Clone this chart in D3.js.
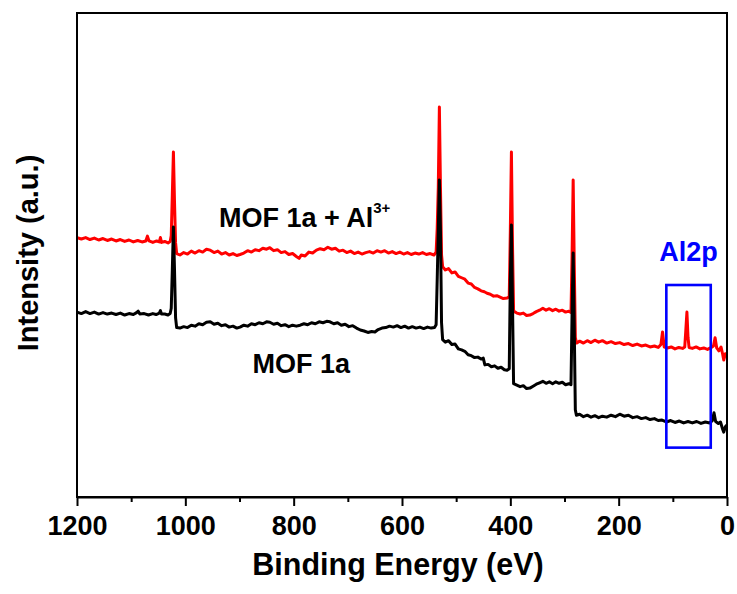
<!DOCTYPE html>
<html>
<head>
<meta charset="utf-8">
<script src="https://cdn.jsdelivr.net/npm/d3@7"></script>
<style>
  html, body { margin: 0; padding: 0; background: #fff; }
  svg { display: block; }
  text { font-family: "Liberation Sans", Arial, Helvetica, sans-serif; font-weight: bold; }
</style>
</head>
<body>
<svg id="chart" width="737" height="594"></svg>
<script>
// XPS survey spectra: [binding energy (eV), intensity (a.u.)]
const mof1aAl = [
  [1200,53.6],[1192,53.3],[1184,53.6],[1176,53.2],[1168,53.5],[1160,53.1],[1152,53.4],[1144,53.0],[1136,53.3],[1128,52.9],
  [1120,53.2],[1112,52.8],[1104,53.1],[1096,52.7],[1088,53.0],[1080,52.7],[1073,52.9],[1070,53.9],[1067,52.9],[1060,52.6],
  [1053,52.9],[1048,52.7],[1046,53.6],[1044,52.6],[1038,52.8],[1032,52.5],[1028,52.8],[1026,54.0],[1024,62.5],[1022,71.3],
  [1020,61.0],[1018,52.5],[1016,50.3],[1010,50.0],[1003,50.5],[996,50.2],[989,50.8],[982,50.4],[975,50.9],[968,50.6],
  [961,51.2],[954,51.0],[947,50.5],[940,50.8],[933,50.2],[926,50.5],[919,50.0],[912,50.3],[905,49.9],[899,50.1],
  [892,50.4],[885,50.9],[878,50.6],[871,51.1],[864,50.9],[857,51.4],[850,51.2],[844,51.5],[837,50.9],[830,51.1],
  [823,50.5],[816,50.7],[809,50.1],[802,50.3],[795,49.7],[790,49.3],[786,50.0],[779,49.8],[772,50.6],[765,50.4],
  [758,51.0],[751,51.3],[744,51.1],[737,51.6],[730,51.2],[723,51.4],[716,50.8],[709,51.0],[702,50.5],[695,50.8],
  [688,50.3],[681,50.6],[674,50.2],[667,50.5],[660,50.7],[653,50.4],[646,50.9],[639,50.6],[632,50.9],[625,50.4],
  [618,50.7],[611,50.3],[604,50.6],[597,50.2],[590,50.5],[583,50.1],[576,50.4],[569,50.2],[562,50.5],[555,50.1],
  [548,50.3],[541,50.0],[537,50.6],[535,55.5],[533,64.0],[531,80.6],[529,64.0],[527,50.0],[525,47.6],[520,46.9],
  [514,47.2],[508,46.3],[502,46.5],[496,45.6],[490,45.3],[484,45.0],[478,44.2],[472,44.0],[466,43.3],[460,43.0],
  [454,42.6],[448,42.4],[443,42.1],[437,41.9],[431,41.5],[425,41.6],[419,41.3],[413,41.0],[406,41.1],[402,41.4],
  [400,55.0],[398,71.3],[396,52.0],[394,38.4],[388,38.0],[382,37.8],[376,38.0],[370,37.5],[364,37.6],[358,37.9],
  [352,38.3],[346,38.6],[340,39.0],[334,38.6],[328,38.9],[322,38.5],[316,38.8],[310,38.4],[304,38.6],[298,38.2],
  [292,38.4],[288,38.1],[286,50.0],[284,65.5],[282,48.0],[280,33.0],[278,31.8],[272,32.2],[265,31.8],[258,32.3],
  [251,31.9],[244,32.4],[237,32.0],[230,32.3],[222,31.8],[214,32.1],[206,31.7],[198,31.9],[190,31.5],[182,31.7],
  [174,31.3],[166,31.6],[158,31.2],[150,31.4],[142,31.0],[134,31.2],[127,30.9],[122,31.5],[119,34.1],[116,31.0],
  [110,30.8],[103,31.0],[96,30.6],[89,30.9],[82,30.7],[78,31.0],[76,34.5],[74,38.2],[72,33.0],[70,30.9],
  [64,30.7],[57,31.0],[50,30.6],[43,30.8],[36,30.5],[29,30.9],[25,31.2],[22,32.9],[19,30.8],[15,30.2],
  [11,31.0],[8,29.5],[6,28.3],[3,29.6],[0,29.3]
];

const mof1a = [
  [1200,38.2],[1192,37.9],[1184,38.3],[1176,37.9],[1168,38.2],[1160,37.8],[1152,38.1],[1144,37.8],[1136,38.0],[1128,37.7],
  [1120,38.0],[1112,37.6],[1104,37.9],[1096,37.7],[1090,38.1],[1087,38.4],[1084,37.8],[1076,37.9],[1068,37.6],[1060,37.9],
  [1054,37.7],[1048,38.0],[1046,38.5],[1044,37.8],[1038,37.8],[1032,37.6],[1028,37.9],[1026,39.0],[1024,47.0],[1022,55.8],
  [1020,47.0],[1018,37.0],[1016,35.0],[1010,34.9],[1003,35.2],[996,35.0],[989,35.5],[982,35.3],[975,35.8],[968,35.6],
  [961,36.1],[954,36.2],[947,35.7],[940,35.9],[933,35.4],[926,35.6],[919,35.1],[912,35.3],[905,34.9],[899,35.1],
  [892,35.5],[885,35.3],[878,35.8],[871,35.6],[864,36.0],[857,35.8],[850,36.2],[844,36.1],[837,35.7],[830,35.9],
  [823,35.4],[816,35.6],[809,35.2],[802,35.5],[795,35.3],[788,35.5],[781,35.8],[774,35.6],[767,36.0],[760,35.8],
  [753,36.2],[746,36.0],[739,36.3],[733,36.2],[726,35.8],[719,36.0],[712,35.5],[705,35.7],[698,35.2],[691,35.4],
  [684,34.9],[677,34.5],[670,34.3],[663,34.0],[656,34.2],[650,34.1],[644,34.6],[637,34.9],[630,35.0],[623,35.3],
  [616,35.1],[609,35.4],[602,35.0],[595,35.3],[588,34.9],[581,35.2],[574,34.9],[567,35.1],[560,34.8],[553,35.1],
  [546,34.9],[540,35.0],[537,35.6],[535,45.0],[533,55.0],[531,65.5],[529,55.0],[527,36.0],[525,32.5],[520,32.0],
  [514,32.3],[508,31.5],[502,31.6],[496,30.6],[490,30.4],[484,30.1],[478,29.4],[472,29.2],[466,28.8],[460,28.9],
  [454,28.5],[450,28.7],[447,27.3],[441,27.4],[435,26.9],[429,27.1],[423,26.6],[417,26.8],[411,26.3],[406,26.2],
  [402,26.5],[400,45.0],[398,56.2],[396,40.0],[394,23.4],[388,23.1],[382,22.8],[376,23.0],[370,22.4],[364,22.5],
  [358,22.9],[352,23.3],[346,23.6],[340,23.9],[334,23.5],[328,23.8],[322,23.4],[316,23.8],[310,23.5],[304,23.7],
  [298,23.2],[292,23.4],[288,23.2],[286,38.0],[284,50.4],[282,35.0],[280,18.0],[278,16.9],[272,17.1],[265,16.6],
  [258,16.9],[251,16.5],[244,16.8],[237,16.4],[230,16.7],[222,16.5],[214,16.9],[206,16.6],[198,17.1],[190,16.7],
  [182,16.9],[174,16.4],[166,16.6],[158,16.2],[150,16.4],[142,16.0],[134,16.2],[127,15.8],[120,15.9],[112,15.5],
  [104,15.8],[96,15.4],[88,15.7],[80,15.3],[72,15.6],[64,15.3],[56,15.6],[48,15.2],[40,15.5],[32,15.3],
  [27,15.8],[24,17.4],[21,15.6],[16,15.2],[12,15.5],[8,14.0],[6,13.4],[3,14.5],[0,14.9]
];

// Axis ticks
const majorTicks = [1200, 1000, 800, 600, 400, 200, 0];
const minorTicks = [1100, 900, 700, 500, 300, 100];

// Highlighted Al 2p window: energy range and intensity range
const al2pWindow = { eMax: 112, eMin: 30, iMin: 10.2, iMax: 43.8 };

// Text
const seriesLabels = [
  { text: "MOF 1a + Al", sup: "3+", e: 938, i: 55.8, color: "#000" },
  { text: "MOF 1a", sup: "", e: 876, i: 25.6, color: "#000" }
];
const windowLabel = "Al2p";
const xTitle = "Binding Energy (eV)";
const yTitle = "Intensity (a.u.)";

const svg = d3.select("#chart");
const plot = { left: 77, right: 727, top: 13, bottom: 497 };

const x = d3.scaleLinear().domain([1200, 0]).range([plot.left, plot.right]);
const y = d3.scaleLinear().domain([0, 100]).range([plot.bottom, plot.top]);

// Spectra: the bare MOF trace is drawn over the Al-loaded one
const line = d3.line().x(d => x(d[0])).y(d => y(d[1]));
svg.append("path").datum(mof1aAl)
  .attr("fill", "none").attr("stroke", "#ff0000").attr("stroke-width", 3)
  .attr("stroke-linejoin", "round").attr("d", line);
svg.append("path").datum(mof1a)
  .attr("fill", "none").attr("stroke", "#000").attr("stroke-width", 3)
  .attr("stroke-linejoin", "round").attr("d", line);

// Frame
svg.append("rect")
  .attr("x", plot.left).attr("y", plot.top)
  .attr("width", plot.right - plot.left).attr("height", plot.bottom - plot.top)
  .attr("fill", "none").attr("stroke", "#000").attr("stroke-width", 2);

// Bottom axis: major ticks with labels, minor ticks without
const gx = svg.append("g").attr("transform", `translate(0,${plot.bottom})`)
  .call(d3.axisBottom(x).tickValues(majorTicks).tickSize(9).tickSizeOuter(0).tickFormat(d3.format("d")));
gx.select(".domain").attr("stroke-width", 2);
gx.selectAll(".tick line").attr("stroke-width", 2);
gx.selectAll(".tick text")
  .attr("y", 38).attr("dy", null)
  .attr("font-size", 27).attr("font-family", "Liberation Sans, Arial, sans-serif")
  .attr("font-weight", "bold").attr("fill", "#000");

const gxm = svg.append("g").attr("transform", `translate(0,${plot.bottom})`)
  .call(d3.axisBottom(x).tickValues(minorTicks).tickSize(5).tickSizeOuter(0).tickFormat(""));
gxm.select(".domain").remove();
gxm.selectAll(".tick line").attr("stroke-width", 2);

// Axis titles
svg.append("text")
  .attr("x", (plot.left + plot.right) / 2 - 4).attr("y", 575)
  .attr("text-anchor", "middle").attr("font-size", 30.5).attr("fill", "#000")
  .text(xTitle);
svg.append("text")
  .attr("transform", `translate(38,${(plot.top + plot.bottom) / 2 - 2}) rotate(-90)`)
  .attr("text-anchor", "middle").attr("font-size", 29).attr("fill", "#000")
  .text(yTitle);

// Series labels
seriesLabels.forEach(l => {
  const t = svg.append("text")
    .attr("x", x(l.e)).attr("y", y(l.i))
    .attr("font-size", 27).attr("fill", l.color)
    .text(l.text);
  if (l.sup) {
    t.append("tspan").attr("dy", -14).attr("font-size", 15).text(l.sup);
  }
});

// Al 2p window
svg.append("rect")
  .attr("x", x(al2pWindow.eMax)).attr("y", y(al2pWindow.iMax))
  .attr("width", x(al2pWindow.eMin) - x(al2pWindow.eMax))
  .attr("height", y(al2pWindow.iMin) - y(al2pWindow.iMax))
  .attr("fill", "none").attr("stroke", "#0000ff").attr("stroke-width", 2.6);
svg.append("text")
  .attr("x", (x(al2pWindow.eMax) + x(al2pWindow.eMin)) / 2).attr("y", y(al2pWindow.iMax) - 24)
  .attr("text-anchor", "middle").attr("font-size", 27).attr("fill", "#0000ff")
  .text(windowLabel);
</script>
</body>
</html>
